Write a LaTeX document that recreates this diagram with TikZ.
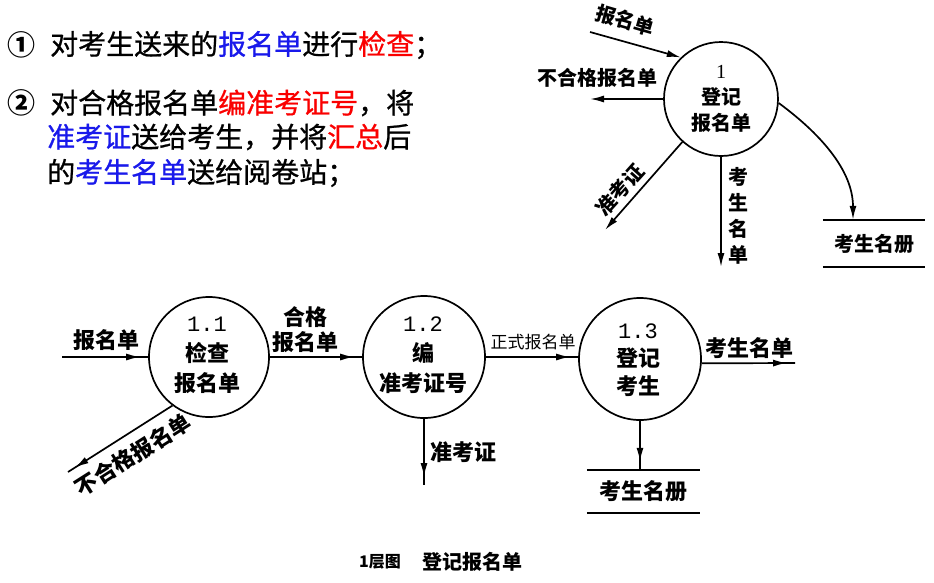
\documentclass[tikz,border=0pt]{standalone}
\usepackage{fontspec}
\setmainfont{Noto Sans CJK SC}
\newfontfamily\bodyf[FakeBold=0.8]{Noto Sans CJK SC}
\newfontfamily\monof{Liberation Mono}
\newfontfamily\seriff{Liberation Serif}
\usetikzlibrary{arrows.meta,decorations.markings}
\definecolor{kwblue}{RGB}{25,25,235}
\definecolor{kwred}{RGB}{250,0,0}
\begin{document}
\begin{tikzpicture}[x=1pt,y=-1pt,
  proc/.style={circle,draw,line width=1.7pt,inner sep=0pt},
  flow/.style={line width=1.7pt,-{Latex[length=14pt,width=7pt]}},
  flowmid/.style={line width=1.7pt,postaction={decorate},
    decoration={markings,mark=at position -8pt with {\arrow{Latex[length=14pt,width=7pt]}}}},
  maintext/.style={font=\bodyf\fontsize{28}{28}\selectfont,inner sep=0pt},
  numtext/.style={font=\fontsize{28}{28}\selectfont\bfseries,inner sep=0pt},
  labA/.style={font=\fontsize{20}{26}\selectfont\bfseries,inner sep=0pt},
  labB/.style={font=\fontsize{22}{30}\selectfont\bfseries,inner sep=0pt},
  labC/.style={font=\fontsize{17}{17}\selectfont,inner sep=0pt},
  store/.style={inner sep=0pt},
  storeline/.style={line width=1.7pt}
]
\useasboundingbox (0,0) rectangle (934,582);
\fill[white] (0,0) rectangle (934,582);

% ---------- text on the left ----------
\node[numtext] (n1) at (22,45) {①};
\node[maintext,anchor=west] (l1) at (50,45) {对考生送来的\textcolor{kwblue}{报名单}进行\textcolor{kwred}{检查}；};
\node[numtext] (n2) at (22,103) {②};
\node[maintext,anchor=west] (l2) at (50,103) {对合格报名单\textcolor{kwred}{编准考证号}，将};
\node[maintext,anchor=west] (l3) at (47,137) {\textcolor{kwblue}{准考证}送给考生，并将\textcolor{kwred}{汇总}后};
\node[maintext,anchor=west] (l4) at (47,173) {的\textcolor{kwblue}{考生名单}送给阅卷站；};

% ---------- top right diagram ----------
\node[proc,minimum size=114pt] (p1) at (721,99) {};
\node[labA,align=center] (t1) at (721,99) {{\seriff\mdseries 1}\\登记\\报名单};
\coordinate (a1) at (590,32);
\draw[flow] (a1) -- (p1.134);
\node[labA,rotate=-16] (la1) at (625,20) {报名单};
\coordinate (b1) at (590,99);
\draw[flow] (p1.west) -- (b1);
\node[labA] (lb1) at (597,78) {不合格报名单};
\coordinate (c1) at (605,230);
\draw[flow] (p1.228) -- (c1);
\node[labA,rotate=48] (lc1) at (620,190) {准考证};
\coordinate (d1) at (721,267);
\draw[flow] (p1.south) -- (d1);
\node[labA,align=center] (ld1) at (738,216) {考\\生\\名\\单};
\node[store,labA,minimum width=102pt,minimum height=47pt] (s1) at (874,243.5) {考生名册};
\draw[storeline] (s1.north west) -- (s1.north east) (s1.south west) -- (s1.south east);
\draw[flow] (p1.-4) .. controls (810,126) and (853,165) .. ([xshift=-21pt]s1.north);

% ---------- bottom diagram ----------
\node[proc,minimum size=120pt] (p11) at (209,357) {};
\node[labB,align=center] (t11) at (207,355) {{\monof\mdseries 1.1}\\检查\\报名单};
\coordinate (a11) at (62,357);
\draw[flowmid] (a11) -- (p11.west);
\node[labB] (la11) at (106,340) {报名单};

\node[proc,minimum size=122pt] (p12) at (424,357) {};
\node[labB,align=center] (t12) at (423,355) {{\monof\mdseries 1.2}\\编\\准考证号};
\draw[flowmid] (p11.east) -- (p12.west);
\node[labB,align=center,font=\fontsize{22}{25}\selectfont\bfseries] (la12) at (305,330) {合格\\报名单};

\coordinate (b11) at (68,472);
\draw[flowmid] (p11.233) -- (b11);
\node[labB,rotate=32.5] (lb11) at (133,455) {不合格报名单};

\coordinate (c12) at (424,485);
\draw[flowmid] (p12.south) -- (c12);
\node[labB] (lc12) at (463,452) {准考证};

\node[proc,minimum size=122pt] (p13) at (640,359) {};
\node[labB,align=center,font=\fontsize{22}{28}\selectfont\bfseries] (t13) at (638,360) {{\monof\mdseries 1.3}\\登记\\考生};
\draw[flowmid] (p12.east) -- (p13.west |- p12.east);
\node[labC] (ld12) at (533,342) {正式报名单};

\coordinate (d13) at (795,363);
\draw[flowmid] (p13.-4) -- (d13);
\node[labB] (ld13) at (749,348) {考生名单};

\node[store,labB,minimum width=113pt,minimum height=43pt] (s2) at (643.5,491.5) {考生名册};
\draw[storeline] (s2.north west) -- (s2.north east) (s2.south west) -- (s2.south east);
\draw[flowmid] (p13.south) -- (p13.south |- s2.north);

% ---------- caption ----------
\node[font=\fontsize{16}{16}\selectfont\bfseries,inner sep=0pt] (cap1) at (380,562) {1层图};
\node[font=\fontsize{20}{20}\selectfont\bfseries,inner sep=0pt] (cap2) at (472,562) {登记报名单};
\end{tikzpicture}
\end{document}
